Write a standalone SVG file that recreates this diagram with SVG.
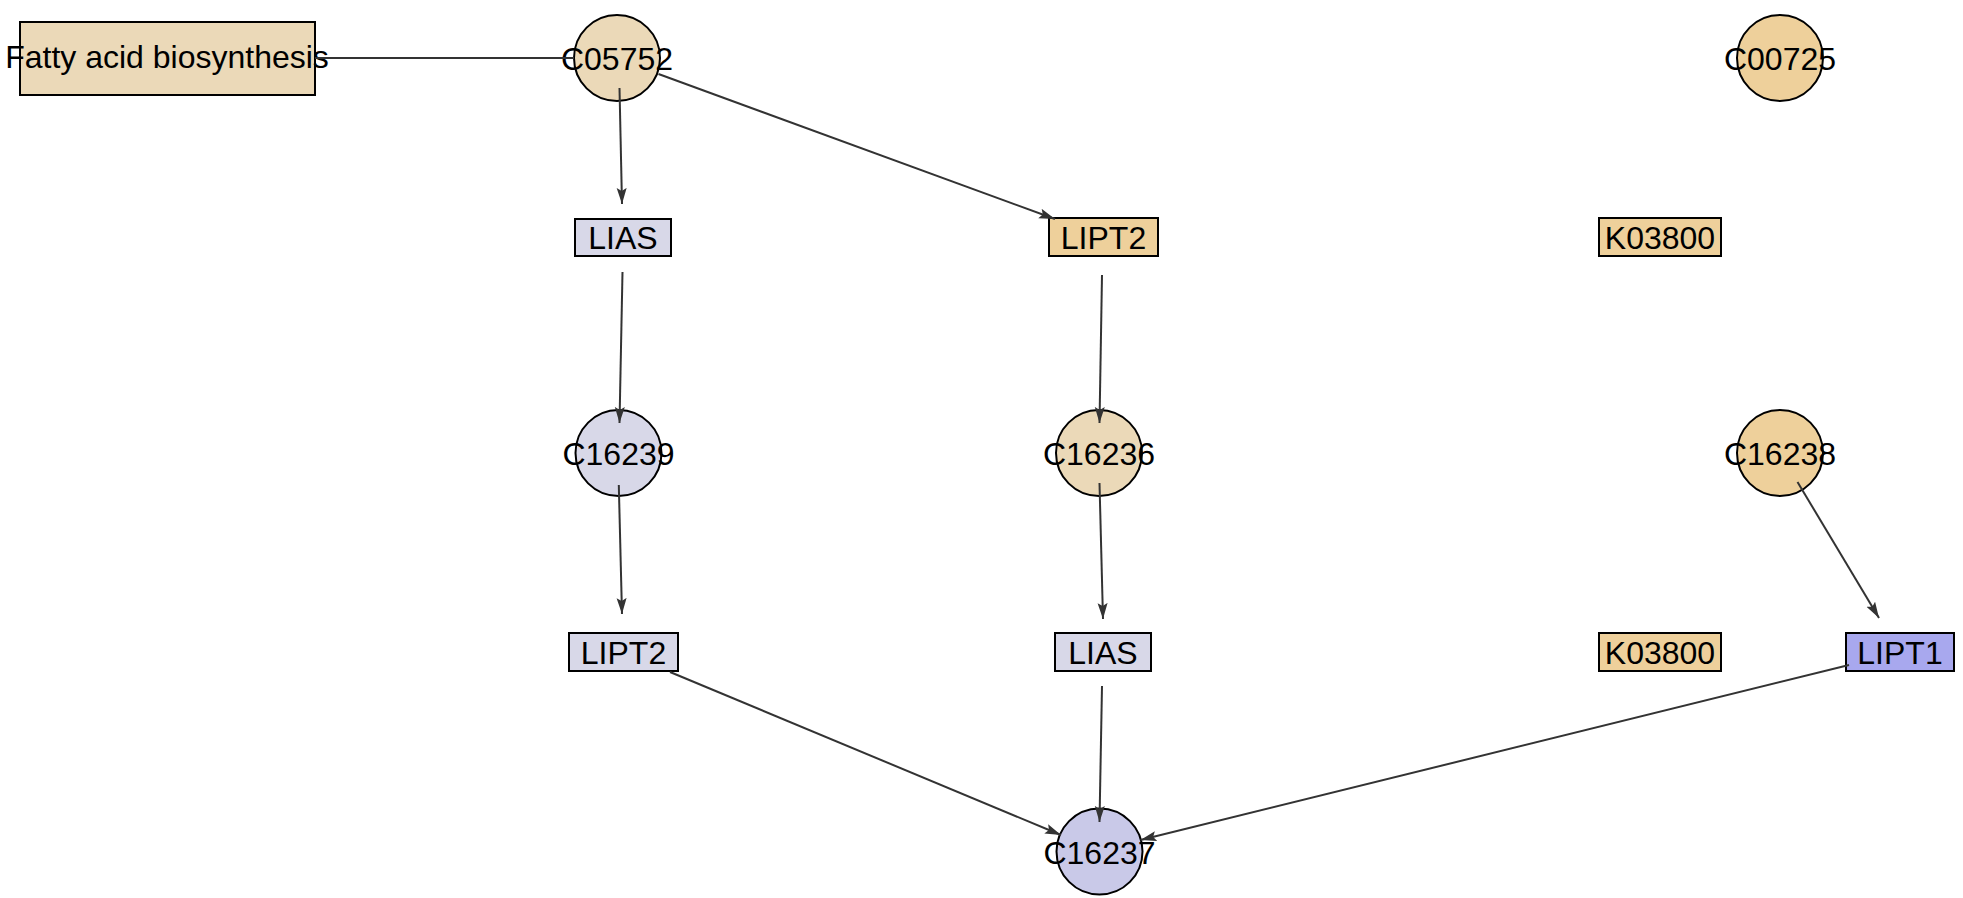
<svg xmlns="http://www.w3.org/2000/svg" width="1963" height="898" viewBox="0 0 1963 898">
<style>
.n{stroke:#000;stroke-width:2}
.t1{fill:#EBD9B8}
.t2{fill:#EED09B}
.l1{fill:#D8D8E8}
.l2{fill:#C9C9E8}
.b1{fill:#A8A8EE}
text{font-family:"Liberation Sans",Arial,sans-serif;font-size:32px;fill:#000;text-anchor:middle}
.e{stroke:#333;stroke-width:2;fill:none}
.a{marker-end:url(#arr)}
</style>
<defs>
<marker id="arr" markerUnits="userSpaceOnUse" markerWidth="18" markerHeight="12" refX="16" refY="5" orient="auto">
<path d="M0,0 L16,5 L0,10 L3,5 z" fill="#333"/>
</marker>
</defs>
<g id="fatty_acid_biosynthesis">
<rect class="n t1" x="20" y="22" width="295" height="73"/>
<text x="167" y="68">Fatty acid biosynthesis</text>
</g>
<g id="C05752">
<circle class="n t1" cx="617" cy="58" r="43"/>
<text x="617" y="70">C05752</text>
</g>
<g id="C00725">
<circle class="n t2" cx="1780" cy="58" r="43"/>
<text x="1780" y="70">C00725</text>
</g>
<g id="LIAS_1">
<rect class="n l1" x="575" y="219" width="96" height="37"/>
<text x="623" y="249">LIAS</text>
</g>
<g id="LIPT2_1">
<rect class="n t2" x="1049" y="218" width="109" height="38"/>
<text x="1103.5" y="249">LIPT2</text>
</g>
<g id="K03800_1">
<rect class="n t2" x="1599" y="218" width="122" height="38"/>
<text x="1660" y="249">K03800</text>
</g>
<g id="C16239">
<circle class="n l1" cx="618.5" cy="453" r="43"/>
<text x="618.5" y="465">C16239</text>
</g>
<g id="C16236">
<circle class="n t1" cx="1099" cy="453" r="43"/>
<text x="1099" y="465">C16236</text>
</g>
<g id="C16238">
<circle class="n t2" cx="1780" cy="453" r="43"/>
<text x="1780" y="465">C16238</text>
</g>
<g id="LIPT2_2">
<rect class="n l1" x="569" y="633" width="109" height="38"/>
<text x="623.5" y="664">LIPT2</text>
</g>
<g id="LIAS_2">
<rect class="n l1" x="1055" y="633" width="96" height="38"/>
<text x="1103" y="664">LIAS</text>
</g>
<g id="K03800_2">
<rect class="n t2" x="1599" y="633" width="122" height="38"/>
<text x="1660" y="664">K03800</text>
</g>
<g id="LIPT1">
<rect class="n b1" x="1846" y="633" width="108" height="38"/>
<text x="1900" y="664">LIPT1</text>
</g>
<g id="C16237">
<circle class="n l2" cx="1099.5" cy="851.5" r="43"/>
<text x="1099.5" y="863.5">C16237</text>
</g>
<g id="edges">
<line class="e" x1="315" y1="58" x2="574" y2="58"/>
<line class="e a" x1="619.5" y1="88" x2="622" y2="204"/>
<line class="e a" x1="658.5" y1="74" x2="1055" y2="219"/>
<line class="e a" x1="622.5" y1="272" x2="619.5" y2="423"/>
<line class="e a" x1="1102" y1="275" x2="1099.5" y2="423"/>
<line class="e a" x1="618.8" y1="485" x2="622" y2="614"/>
<line class="e a" x1="1099.5" y1="483" x2="1103" y2="619"/>
<line class="e a" x1="1797.5" y1="482" x2="1879" y2="618"/>
<line class="e a" x1="670" y1="672" x2="1061" y2="835"/>
<line class="e a" x1="1102" y1="686" x2="1099.5" y2="822"/>
<line class="e a" x1="1849" y1="665" x2="1140.5" y2="840"/>
</g>
</svg>
